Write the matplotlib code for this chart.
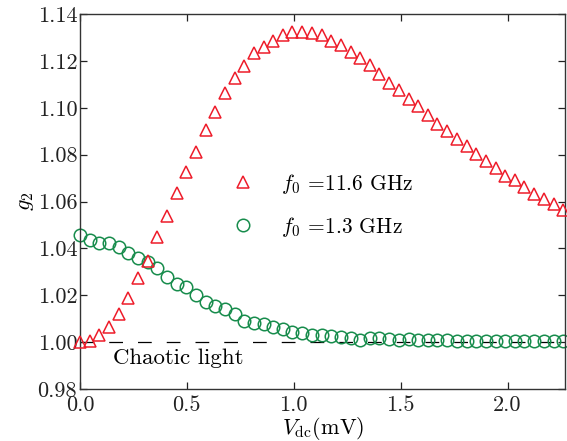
"""
plot.py - g2 versus dc bias voltage for two drive frequencies.
"""
import numpy as np
import matplotlib
matplotlib.use("Agg")               # headless backend
import matplotlib.pyplot as plt

plt.rcParams["font.family"] = "cmr10"
plt.rcParams["mathtext.fontset"] = "cm"
plt.rcParams["axes.formatter.use_mathtext"] = True

# bias voltage (mV)
v_dc = [0.000, 0.045, 0.090, 0.136, 0.181, 0.226, 0.271, 0.316, 0.362, 0.407,
        0.452, 0.497, 0.542, 0.588, 0.633, 0.678, 0.723, 0.768, 0.814, 0.859,
        0.904, 0.949, 0.994, 1.040, 1.085, 1.130, 1.175, 1.220, 1.266, 1.311,
        1.356, 1.401, 1.446, 1.492, 1.537, 1.582, 1.627, 1.672, 1.718, 1.763,
        1.808, 1.853, 1.898, 1.944, 1.989, 2.034, 2.079, 2.124, 2.170, 2.215,
        2.260]

# f0 = 11.6 GHz (triangles)
g2_high = [1.0000, 1.0005, 1.0030, 1.0066, 1.0120, 1.0187, 1.0272, 1.0347, 1.0447, 1.0537,
           1.0635, 1.0727, 1.0812, 1.0907, 1.0983, 1.1064, 1.1129, 1.1179, 1.1232, 1.1260,
           1.1285, 1.1310, 1.1324, 1.1322, 1.1319, 1.1311, 1.1284, 1.1268, 1.1237, 1.1213,
           1.1183, 1.1145, 1.1106, 1.1074, 1.1038, 1.1007, 1.0968, 1.0933, 1.0903, 1.0866,
           1.0836, 1.0803, 1.0774, 1.0742, 1.0711, 1.0690, 1.0663, 1.0633, 1.0610, 1.0588,
           1.0565]

# f0 = 1.3 GHz (circles)
g2_low = [1.0457, 1.0435, 1.0421, 1.0421, 1.0404, 1.0379, 1.0357, 1.0343, 1.0315, 1.0279,
          1.0248, 1.0234, 1.0201, 1.0172, 1.0153, 1.0140, 1.0120, 1.0092, 1.0083, 1.0077,
          1.0064, 1.0055, 1.0045, 1.0040, 1.0030, 1.0029, 1.0026, 1.0023, 1.0016, 1.0009,
          1.0016, 1.0016, 1.0012, 1.0010, 1.0013, 1.0009, 1.0008, 1.0007, 1.0008, 1.0006,
          1.0005, 1.0006, 1.0005, 1.0004, 1.0005, 1.0004, 1.0004, 1.0005, 1.0003, 1.0004,
          1.0003]

labels = [r"$f_0$ =11.6 GHz", r"$f_0$ =1.3 GHz"]
x_ticks = [0.0, 0.5, 1.0, 1.5, 2.0]
y_ticks = [0.98, 1.00, 1.02, 1.04, 1.06, 1.08, 1.10, 1.12, 1.14]

RED = "#ee1c2a"
GREEN = "#178c4c"

fig = plt.figure(figsize=(5.67, 4.41), dpi=100)
ax = fig.add_axes([0.141, 0.118, 0.856, 0.850])

ax.axhline(1.0, color="black", lw=0.9, dashes=(11, 12), zorder=1)
ax.plot(v_dc, g2_high, ls="none", marker="^", ms=8.5, mfc="none",
        mec=RED, mew=1.1, label=labels[0], clip_on=False, zorder=3)
ax.plot(v_dc, g2_low, ls="none", marker="o", ms=9, mfc="none",
        mec=GREEN, mew=1.1, label=labels[1], clip_on=False, zorder=2)

ax.text(0.155, 0.9932, "Chaotic light", fontsize=16.5, va="center", ha="left")

ax.set_xlim(0, 2.27)
ax.set_ylim(0.98, 1.14)
ax.set_xticks(x_ticks)
ax.set_xticklabels([f"{t:.1f}" for t in x_ticks])
ax.set_yticks(y_ticks)
ax.set_yticklabels([f"{t:.2f}" for t in y_ticks])
ax.tick_params(direction="in", length=5, width=0.9, top=True, right=True,
               labelsize=16, colors="#222222")
ax.tick_params(axis="y", pad=2)
ax.tick_params(axis="x", pad=5)
for s in ax.spines.values():
    s.set_linewidth(1.0)
    s.set_color("#333333")

ax.set_xlabel(r"$V_{\rm dc}$(mV)", fontsize=16, labelpad=0)
ax.set_ylabel(r"$g_2$", fontsize=16, labelpad=1)

ax.legend(loc="upper left", bbox_to_anchor=(0.285, 0.602), frameon=False,
          fontsize=15.5, handletextpad=1.0, labelspacing=0.88,
          handlelength=1.5, borderaxespad=0)

fig.savefig("out.png", dpi=100)
